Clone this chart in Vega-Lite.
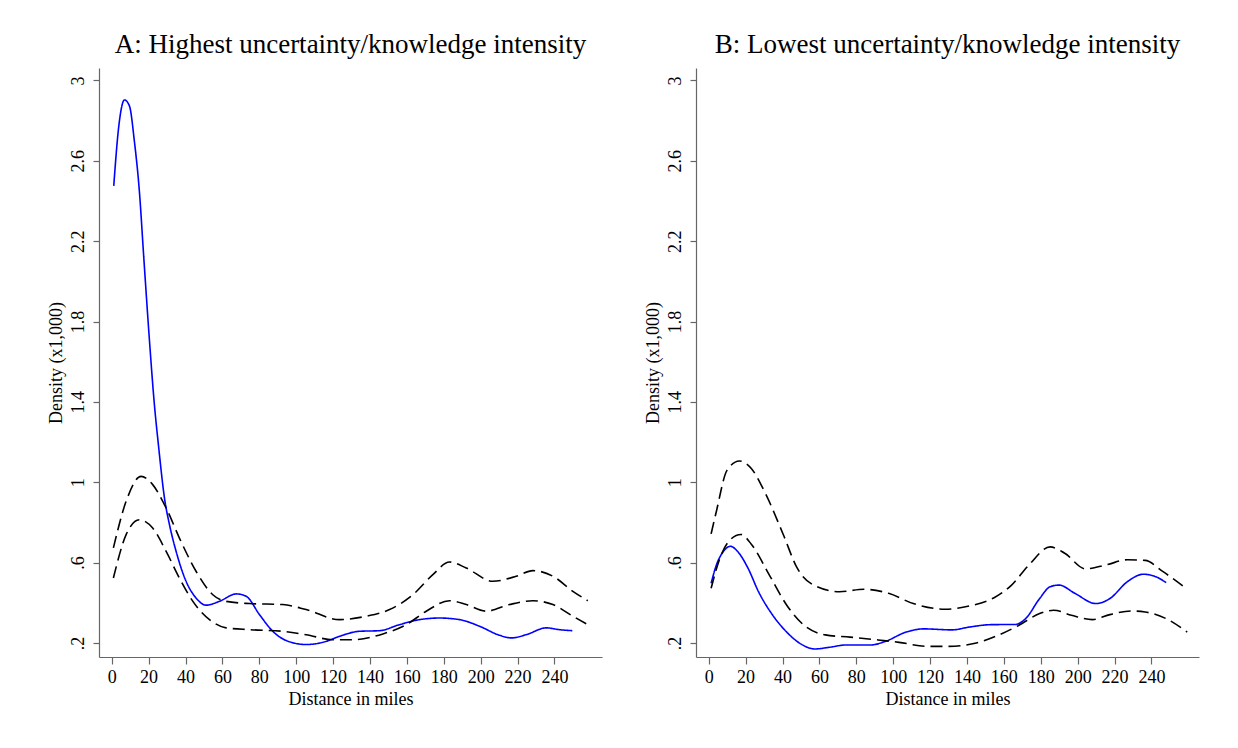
{
  "$schema": "https://vega.github.io/schema/vega-lite/v6.json",
  "background": "white",
  "padding": {"left": 46, "top": 31, "right": 5, "bottom": 5},
  "spacing": 41,
  "config": {
    "font": "Liberation Serif",
    "view": {"stroke": null},
    "title": {"font": "Liberation Serif", "fontSize": 27, "fontWeight": "normal", "color": "black", "offset": 9},
    "axis": {
      "domainColor": "#666666", "tickColor": "#666666", "labelColor": "black", "titleColor": "black",
      "labelFont": "Liberation Serif", "titleFont": "Liberation Serif",
      "labelFontSize": 18, "titleFontSize": 18, "titleFontWeight": "normal",
      "grid": false, "tickSize": 6, "domainWidth": 1.2, "tickWidth": 1.2
    }
  },
  "datasets": {
    "panelA": [
      {"series": "est", "x": 1.1, "y": 2.475},
      {"series": "est", "x": 3.8, "y": 2.77},
      {"series": "est", "x": 6.9, "y": 2.903},
      {"series": "est", "x": 9.6, "y": 2.873},
      {"series": "est", "x": 12.3, "y": 2.696},
      {"series": "est", "x": 15.0, "y": 2.447},
      {"series": "est", "x": 17.4, "y": 2.115},
      {"series": "est", "x": 20.5, "y": 1.70},
      {"series": "est", "x": 23.0, "y": 1.40},
      {"series": "est", "x": 25.5, "y": 1.17},
      {"series": "est", "x": 28.6, "y": 0.921},
      {"series": "est", "x": 31.3, "y": 0.789},
      {"series": "est", "x": 34.9, "y": 0.656},
      {"series": "est", "x": 40.3, "y": 0.507},
      {"series": "est", "x": 45.7, "y": 0.424},
      {"series": "est", "x": 51.2, "y": 0.388},
      {"series": "est", "x": 58.4, "y": 0.407},
      {"series": "est", "x": 67.5, "y": 0.444},
      {"series": "est", "x": 72.9, "y": 0.432},
      {"series": "est", "x": 80.1, "y": 0.341},
      {"series": "est", "x": 87.3, "y": 0.258},
      {"series": "est", "x": 94.6, "y": 0.212},
      {"series": "est", "x": 105.4, "y": 0.192},
      {"series": "est", "x": 116.3, "y": 0.208},
      {"series": "est", "x": 123.5, "y": 0.233},
      {"series": "est", "x": 134.3, "y": 0.258},
      {"series": "est", "x": 145.2, "y": 0.261},
      {"series": "est", "x": 156.0, "y": 0.291},
      {"series": "est", "x": 166.9, "y": 0.316},
      {"series": "est", "x": 177.7, "y": 0.324},
      {"series": "est", "x": 188.6, "y": 0.316},
      {"series": "est", "x": 199.4, "y": 0.283},
      {"series": "est", "x": 210.3, "y": 0.238},
      {"series": "est", "x": 216.6, "y": 0.225},
      {"series": "est", "x": 224.7, "y": 0.241},
      {"series": "est", "x": 235.6, "y": 0.275},
      {"series": "est", "x": 242.8, "y": 0.266},
      {"series": "est", "x": 249.7, "y": 0.261},

      {"series": "upper", "x": 0.9, "y": 0.673},
      {"series": "upper", "x": 7.8, "y": 0.905},
      {"series": "upper", "x": 15.9, "y": 1.029},
      {"series": "upper", "x": 22.2, "y": 0.988},
      {"series": "upper", "x": 29.5, "y": 0.872},
      {"series": "upper", "x": 36.7, "y": 0.722},
      {"series": "upper", "x": 45.7, "y": 0.557},
      {"series": "upper", "x": 54.8, "y": 0.44},
      {"series": "upper", "x": 62.0, "y": 0.407},
      {"series": "upper", "x": 74.7, "y": 0.396},
      {"series": "upper", "x": 92.7, "y": 0.391},
      {"series": "upper", "x": 105.4, "y": 0.366},
      {"series": "upper", "x": 123.5, "y": 0.316},
      {"series": "upper", "x": 138.0, "y": 0.333},
      {"series": "upper", "x": 150.6, "y": 0.366},
      {"series": "upper", "x": 163.3, "y": 0.44},
      {"series": "upper", "x": 174.1, "y": 0.54},
      {"series": "upper", "x": 183.1, "y": 0.603},
      {"series": "upper", "x": 192.2, "y": 0.573},
      {"series": "upper", "x": 206.6, "y": 0.507},
      {"series": "upper", "x": 219.3, "y": 0.532},
      {"series": "upper", "x": 228.3, "y": 0.56},
      {"series": "upper", "x": 239.2, "y": 0.532},
      {"series": "upper", "x": 250.0, "y": 0.457},
      {"series": "upper", "x": 258.1, "y": 0.41},

      {"series": "lower", "x": 0.9, "y": 0.523},
      {"series": "lower", "x": 7.8, "y": 0.739},
      {"series": "lower", "x": 15.0, "y": 0.813},
      {"series": "lower", "x": 22.2, "y": 0.772},
      {"series": "lower", "x": 29.5, "y": 0.656},
      {"series": "lower", "x": 36.7, "y": 0.523},
      {"series": "lower", "x": 44.0, "y": 0.407},
      {"series": "lower", "x": 53.0, "y": 0.316},
      {"series": "lower", "x": 62.0, "y": 0.275},
      {"series": "lower", "x": 74.7, "y": 0.266},
      {"series": "lower", "x": 92.7, "y": 0.258},
      {"series": "lower", "x": 105.4, "y": 0.241},
      {"series": "lower", "x": 119.9, "y": 0.216},
      {"series": "lower", "x": 130.7, "y": 0.216},
      {"series": "lower", "x": 147.0, "y": 0.245},
      {"series": "lower", "x": 159.7, "y": 0.291},
      {"series": "lower", "x": 170.5, "y": 0.358},
      {"series": "lower", "x": 183.1, "y": 0.41},
      {"series": "lower", "x": 192.2, "y": 0.391},
      {"series": "lower", "x": 203.0, "y": 0.358},
      {"series": "lower", "x": 215.6, "y": 0.391},
      {"series": "lower", "x": 228.3, "y": 0.41},
      {"series": "lower", "x": 239.2, "y": 0.391},
      {"series": "lower", "x": 250.0, "y": 0.333},
      {"series": "lower", "x": 258.1, "y": 0.291}
    ],
    "panelB": [
      {"series": "est", "x": 1.3, "y": 0.497},
      {"series": "est", "x": 4.2, "y": 0.589},
      {"series": "est", "x": 8.0, "y": 0.656},
      {"series": "est", "x": 11.8, "y": 0.681},
      {"series": "est", "x": 15.6, "y": 0.656},
      {"series": "est", "x": 21.3, "y": 0.572},
      {"series": "est", "x": 27.0, "y": 0.455},
      {"series": "est", "x": 34.7, "y": 0.338},
      {"series": "est", "x": 42.3, "y": 0.254},
      {"series": "est", "x": 49.9, "y": 0.195},
      {"series": "est", "x": 57.5, "y": 0.17},
      {"series": "est", "x": 65.1, "y": 0.178},
      {"series": "est", "x": 74.7, "y": 0.19},
      {"series": "est", "x": 88.0, "y": 0.19},
      {"series": "est", "x": 95.6, "y": 0.207},
      {"series": "est", "x": 107.0, "y": 0.254},
      {"series": "est", "x": 116.6, "y": 0.27},
      {"series": "est", "x": 131.8, "y": 0.265},
      {"series": "est", "x": 141.3, "y": 0.279},
      {"series": "est", "x": 152.8, "y": 0.291},
      {"series": "est", "x": 166.1, "y": 0.292},
      {"series": "est", "x": 171.8, "y": 0.321},
      {"series": "est", "x": 179.4, "y": 0.421},
      {"series": "est", "x": 185.1, "y": 0.48},
      {"series": "est", "x": 189.9, "y": 0.488},
      {"series": "est", "x": 198.5, "y": 0.447},
      {"series": "est", "x": 209.9, "y": 0.396},
      {"series": "est", "x": 217.5, "y": 0.421},
      {"series": "est", "x": 227.0, "y": 0.505},
      {"series": "est", "x": 235.6, "y": 0.542},
      {"series": "est", "x": 242.3, "y": 0.53},
      {"series": "est", "x": 248.0, "y": 0.5},

      {"series": "upper", "x": 1.3, "y": 0.743},
      {"series": "upper", "x": 4.2, "y": 0.857},
      {"series": "upper", "x": 9.9, "y": 1.059},
      {"series": "upper", "x": 16.6, "y": 1.106},
      {"series": "upper", "x": 23.2, "y": 1.067},
      {"series": "upper", "x": 30.9, "y": 0.941},
      {"series": "upper", "x": 40.4, "y": 0.74},
      {"series": "upper", "x": 48.0, "y": 0.572},
      {"series": "upper", "x": 57.5, "y": 0.485},
      {"series": "upper", "x": 70.9, "y": 0.455},
      {"series": "upper", "x": 84.2, "y": 0.467},
      {"series": "upper", "x": 97.5, "y": 0.447},
      {"series": "upper", "x": 110.9, "y": 0.396},
      {"series": "upper", "x": 128.0, "y": 0.368},
      {"series": "upper", "x": 141.3, "y": 0.384},
      {"series": "upper", "x": 154.7, "y": 0.425},
      {"series": "upper", "x": 164.2, "y": 0.488},
      {"series": "upper", "x": 173.7, "y": 0.589},
      {"series": "upper", "x": 185.1, "y": 0.678},
      {"series": "upper", "x": 192.8, "y": 0.648},
      {"series": "upper", "x": 204.2, "y": 0.569},
      {"series": "upper", "x": 215.6, "y": 0.589},
      {"series": "upper", "x": 227.0, "y": 0.614},
      {"series": "upper", "x": 236.6, "y": 0.611},
      {"series": "upper", "x": 246.1, "y": 0.556},
      {"series": "upper", "x": 259.4, "y": 0.467},

      {"series": "lower", "x": 1.3, "y": 0.472},
      {"series": "lower", "x": 6.1, "y": 0.623},
      {"series": "lower", "x": 11.8, "y": 0.715},
      {"series": "lower", "x": 17.5, "y": 0.74},
      {"series": "lower", "x": 23.2, "y": 0.69},
      {"series": "lower", "x": 32.8, "y": 0.539},
      {"series": "lower", "x": 42.3, "y": 0.388},
      {"series": "lower", "x": 51.8, "y": 0.287},
      {"series": "lower", "x": 63.2, "y": 0.24},
      {"series": "lower", "x": 76.6, "y": 0.229},
      {"series": "lower", "x": 91.8, "y": 0.215},
      {"series": "lower", "x": 103.2, "y": 0.203},
      {"series": "lower", "x": 118.5, "y": 0.183},
      {"series": "lower", "x": 129.9, "y": 0.183},
      {"series": "lower", "x": 145.1, "y": 0.2},
      {"series": "lower", "x": 156.6, "y": 0.237},
      {"series": "lower", "x": 168.0, "y": 0.287},
      {"series": "lower", "x": 179.4, "y": 0.346},
      {"series": "lower", "x": 187.0, "y": 0.363},
      {"series": "lower", "x": 196.6, "y": 0.338},
      {"series": "lower", "x": 208.0, "y": 0.316},
      {"series": "lower", "x": 217.5, "y": 0.341},
      {"series": "lower", "x": 229.0, "y": 0.359},
      {"series": "lower", "x": 236.6, "y": 0.354},
      {"series": "lower", "x": 248.0, "y": 0.321},
      {"series": "lower", "x": 259.4, "y": 0.254}
    ]
  },
  "hconcat": [
    {
      "title": "A: Highest uncertainty/knowledge intensity",
      "width": 503,
      "height": 589,
      "data": {"name": "panelA"},
      "mark": {"type": "line", "interpolate": "monotone", "strokeWidth": 1.6},
      "encoding": {
        "x": {"field": "x", "type": "quantitative", "title": "Distance in miles",
              "scale": {"domain": [-6.9, 265.8], "nice": false, "zero": false},
              "axis": {"values": [0, 20, 40, 60, 80, 100, 120, 140, 160, 180, 200, 220, 240], "labelPadding": 4, "titlePadding": 4, "tickSize": 7, "labelFlush": false}},
        "y": {"field": "y", "type": "quantitative", "title": "Density (x1,000)",
              "scale": {"domain": [0.13, 3.062], "nice": false, "zero": false},
              "axis": {"values": [0.2, 0.6, 1, 1.4, 1.8, 2.2, 2.6, 3], "labelAngle": -90, "labelAlign": "center", "labelBaseline": "alphabetic", "labelPadding": 10, "titlePadding": 4, "labelFlush": false,
                       "labelExpr": "datum.value < 1 ? slice(format(datum.value, '.1f'), 1) : format(datum.value, '~g')"}},
        "detail": {"field": "series"},
        "color": {"field": "series", "type": "nominal", "legend": null,
                  "scale": {"domain": ["est", "upper", "lower"], "range": ["#0000ff", "black", "black"]}},
        "strokeDash": {"field": "series", "type": "nominal", "legend": null,
                       "scale": {"domain": ["est", "upper", "lower"], "range": [[1, 0], [12, 6], [12, 6]]}}
      }
    },
    {
      "title": "B: Lowest uncertainty/knowledge intensity",
      "width": 503,
      "height": 589,
      "data": {"name": "panelB"},
      "mark": {"type": "line", "interpolate": "monotone", "strokeWidth": 1.6},
      "encoding": {
        "x": {"field": "x", "type": "quantitative", "title": "Distance in miles",
              "scale": {"domain": [-6.9, 265.8], "nice": false, "zero": false},
              "axis": {"values": [0, 20, 40, 60, 80, 100, 120, 140, 160, 180, 200, 220, 240], "labelPadding": 4, "titlePadding": 4, "tickSize": 7, "labelFlush": false}},
        "y": {"field": "y", "type": "quantitative", "title": "Density (x1,000)",
              "scale": {"domain": [0.13, 3.062], "nice": false, "zero": false},
              "axis": {"values": [0.2, 0.6, 1, 1.4, 1.8, 2.2, 2.6, 3], "labelAngle": -90, "labelAlign": "center", "labelBaseline": "alphabetic", "labelPadding": 10, "titlePadding": 4, "labelFlush": false,
                       "labelExpr": "datum.value < 1 ? slice(format(datum.value, '.1f'), 1) : format(datum.value, '~g')"}},
        "detail": {"field": "series"},
        "color": {"field": "series", "type": "nominal", "legend": null,
                  "scale": {"domain": ["est", "upper", "lower"], "range": ["#0000ff", "black", "black"]}},
        "strokeDash": {"field": "series", "type": "nominal", "legend": null,
                       "scale": {"domain": ["est", "upper", "lower"], "range": [[1, 0], [12, 6], [12, 6]]}}
      }
    }
  ]
}
